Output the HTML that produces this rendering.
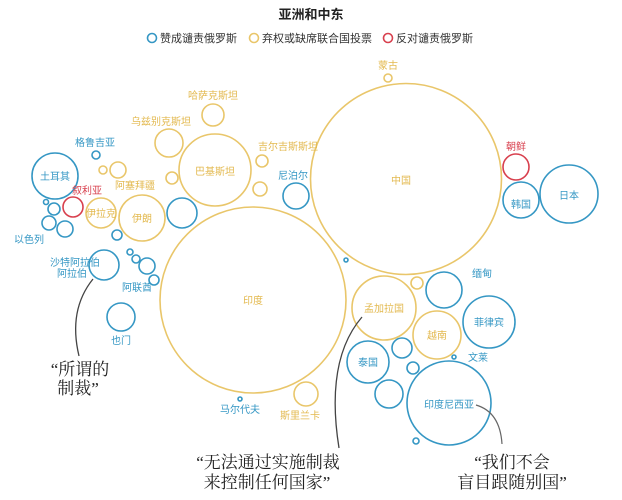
<!DOCTYPE html>
<html><head><meta charset="utf-8"><style>
body{margin:0;background:#fff;}
svg{display:block;font-family:"Liberation Sans","Noto Sans CJK SC",sans-serif;}
.b{fill:none;stroke:#3597c4;stroke-width:1.6}
.y{fill:none;stroke:#e9c66a;stroke-width:1.6}
.r{fill:none;stroke:#d8404e;stroke-width:1.6}
.tb{fill:#3597c4;font-size:10px;text-anchor:middle}
.ty{fill:#e3b94f;font-size:10px;text-anchor:middle}
.tr{fill:#d8404e;font-size:10px;text-anchor:middle}
.q{fill:#222;font-size:17px;text-anchor:middle;font-family:"Liberation Serif","Noto Serif CJK SC",serif}
</style></head><body>
<svg width="622" height="500" viewBox="0 0 622 500">
<text x="311" y="19" text-anchor="middle" font-size="13" font-weight="bold" fill="#222">亚洲和中东</text>
<circle cx="152" cy="38" r="4.5" class="b"/><text x="160" y="42" font-size="11" fill="#333">赞成谴责俄罗斯</text>
<circle cx="254" cy="38" r="4.5" class="y"/><text x="262" y="42" font-size="11" fill="#333">弃权或缺席联合国投票</text>
<circle cx="388" cy="38" r="4.5" class="r"/><text x="396" y="42" font-size="11" fill="#333">反对谴责俄罗斯</text>

<circle cx="253" cy="300" r="93" class="y"/><text x="253" y="304" class="ty">印度</text>
<circle cx="406" cy="179" r="95.5" class="y"/><text x="401" y="184" class="ty">中国</text>
<circle cx="388" cy="78" r="4" class="y"/><text x="388" y="69" class="ty">蒙古</text>
<circle cx="516" cy="167" r="13" class="r"/><text x="516" y="150" class="tr">朝鲜</text>
<circle cx="521" cy="200" r="18" class="b"/><text x="521" y="208" class="tb">韩国</text>
<circle cx="569" cy="194" r="29" class="b"/><text x="569" y="199" class="tb">日本</text>

<circle cx="55" cy="176" r="23" class="b"/><text x="55" y="180" class="tb">土耳其</text>
<circle cx="73" cy="207" r="10" class="r"/><text x="87" y="194" class="tr">叙利亚</text>
<circle cx="46" cy="202" r="2.5" class="b"/>
<circle cx="54" cy="209" r="6" class="b"/>
<circle cx="49" cy="223" r="7" class="b"/>
<circle cx="65" cy="229" r="8" class="b"/>
<text x="29" y="243" class="tb">以色列</text>
<circle cx="101" cy="213" r="15" class="y"/><text x="101" y="217" class="ty">伊拉克</text>
<circle cx="142" cy="218" r="23" class="y"/><text x="142" y="222" class="ty">伊朗</text>
<circle cx="182" cy="213" r="15" class="b"/>
<circle cx="96" cy="155" r="4" class="b"/><text x="95" y="146" class="tb">格鲁吉亚</text>
<circle cx="103" cy="170" r="4" class="y"/>
<circle cx="118" cy="170" r="8" class="y"/>
<text x="135" y="189" class="ty">阿塞拜疆</text>
<circle cx="172" cy="178" r="6" class="y"/>
<circle cx="169" cy="143" r="14" class="y"/><text x="161" y="125" class="ty">乌兹别克斯坦</text>
<circle cx="213" cy="115" r="11" class="y"/><text x="213" y="99" class="ty">哈萨克斯坦</text>
<circle cx="215" cy="170" r="36" class="y"/><text x="215" y="175" class="ty">巴基斯坦</text>
<circle cx="262" cy="161" r="6" class="y"/><text x="288" y="150" class="ty">吉尔吉斯斯坦</text>
<circle cx="260" cy="189" r="7" class="y"/>
<circle cx="296" cy="196" r="13" class="b"/><text x="293" y="179" class="tb">尼泊尔</text>
<circle cx="117" cy="235" r="5" class="b"/>

<circle cx="104" cy="265" r="15" class="b"/><text x="75" y="266" class="tb">沙特阿拉伯</text><text x="72" y="277" class="tb">阿拉伯</text>
<circle cx="130" cy="252" r="3" class="b"/>
<circle cx="136" cy="259" r="4" class="b"/>
<circle cx="147" cy="266" r="8" class="b"/>
<circle cx="154" cy="280" r="5" class="b"/>
<text x="137" y="291" class="tb">阿联酋</text>
<circle cx="121" cy="317" r="14" class="b"/><text x="121" y="344" class="tb">也门</text>
<circle cx="240" cy="399" r="2" class="b"/><text x="240" y="413" class="tb">马尔代夫</text>
<circle cx="306" cy="394" r="12" class="y"/><text x="300" y="419" class="ty">斯里兰卡</text>

<circle cx="346" cy="260" r="2" class="b"/>
<circle cx="384" cy="308" r="32" class="y"/><text x="384" y="312" class="ty">孟加拉国</text>
<circle cx="417" cy="283" r="6" class="y"/>
<circle cx="444" cy="290" r="18" class="b"/><text x="482" y="277" class="tb">缅甸</text>
<circle cx="489" cy="322" r="26" class="b"/><text x="489" y="326" class="tb">菲律宾</text>
<circle cx="437" cy="335" r="24" class="y"/><text x="437" y="339" class="ty">越南</text>
<circle cx="402" cy="348" r="10" class="b"/>
<circle cx="368" cy="362" r="21" class="b"/><text x="368" y="366" class="tb">泰国</text>
<circle cx="413" cy="368" r="6" class="b"/>
<circle cx="454" cy="357" r="2" class="b"/><text x="478" y="361" class="tb">文莱</text>
<circle cx="389" cy="394" r="14" class="b"/>
<circle cx="449" cy="403" r="42" class="b"/><text x="449" y="408" class="tb">印度尼西亚</text>
<circle cx="416" cy="441" r="3" class="b"/>

<path d="M93 279 Q68 310 79 356" fill="none" stroke="#444" stroke-width="1.3"/>
<text x="80" y="375" class="q">“所谓的</text><text x="78" y="394" class="q">制裁”</text>
<path d="M362 317 Q325 360 339 448" fill="none" stroke="#444" stroke-width="1.3"/>
<text x="268" y="468" class="q">“无法通过实施制裁</text><text x="267" y="488" class="q">来控制任何国家”</text>
<path d="M476 405 Q500 412 502 444" fill="none" stroke="#666" stroke-width="1.2"/>
<text x="512" y="468" class="q">“我们不会</text><text x="512" y="488" class="q">盲目跟随别国”</text>
</svg>
</body></html>
